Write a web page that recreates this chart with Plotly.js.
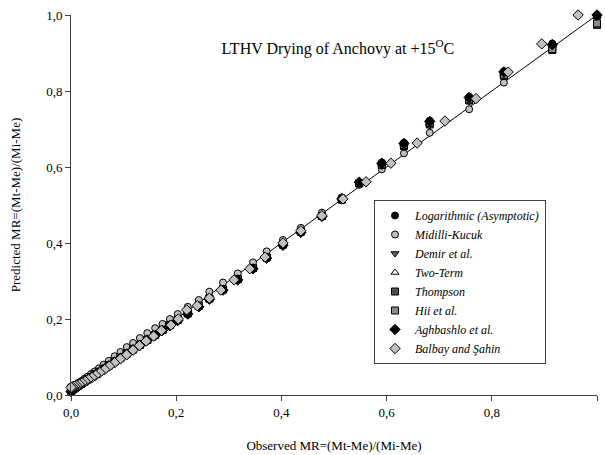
<!DOCTYPE html>
<html>
<head>
<meta charset="utf-8">
<script src="https://cdn.plot.ly/plotly-3.0.1.min.js"></script>
<style>html,body{margin:0;padding:0;background:#fff;}#chart{width:605px;height:455px;}</style>
</head>
<body>
<div id="chart"></div>
<script>
// Observed MR (common to the first seven models)
const observed = [1.000, 0.915, 0.823, 0.757, 0.682, 0.633, 0.591, 0.548, 0.515, 0.477, 0.437, 0.403, 0.372, 0.346, 0.317, 0.289, 0.263, 0.243, 0.222, 0.203, 0.188, 0.174, 0.160, 0.145, 0.131, 0.118, 0.106, 0.094, 0.083, 0.072, 0.062, 0.053, 0.045, 0.038, 0.031, 0.025, 0.019, 0.014, 0.010, 0.006, 0.003, 0.000];

const predLogarithmic = [1.000, 0.925, 0.852, 0.785, 0.722, 0.664, 0.612, 0.560, 0.515, 0.470, 0.428, 0.394, 0.360, 0.332, 0.303, 0.276, 0.252, 0.232, 0.213, 0.196, 0.182, 0.170, 0.157, 0.144, 0.131, 0.119, 0.108, 0.097, 0.087, 0.077, 0.068, 0.060, 0.053, 0.047, 0.042, 0.037, 0.033, 0.030, 0.028, 0.026, 0.024, 0.022];
const predMidilli = [0.998, 0.918, 0.822, 0.752, 0.690, 0.636, 0.594, 0.553, 0.520, 0.480, 0.440, 0.408, 0.378, 0.349, 0.320, 0.296, 0.272, 0.250, 0.232, 0.213, 0.200, 0.187, 0.176, 0.163, 0.150, 0.137, 0.126, 0.113, 0.102, 0.090, 0.080, 0.070, 0.062, 0.055, 0.048, 0.042, 0.036, 0.032, 0.028, 0.025, 0.022, 0.020];
const predDemir = [0.990, 0.915, 0.838, 0.772, 0.708, 0.652, 0.603, 0.556, 0.514, 0.470, 0.430, 0.396, 0.362, 0.334, 0.305, 0.278, 0.254, 0.235, 0.215, 0.198, 0.184, 0.171, 0.158, 0.145, 0.132, 0.120, 0.109, 0.098, 0.088, 0.078, 0.069, 0.061, 0.054, 0.048, 0.042, 0.037, 0.032, 0.028, 0.025, 0.022, 0.020, 0.018];
const predTwoTerm = [0.995, 0.920, 0.845, 0.778, 0.714, 0.657, 0.607, 0.558, 0.516, 0.472, 0.431, 0.397, 0.363, 0.335, 0.306, 0.279, 0.255, 0.236, 0.216, 0.199, 0.185, 0.172, 0.159, 0.146, 0.133, 0.121, 0.110, 0.099, 0.089, 0.079, 0.070, 0.062, 0.055, 0.049, 0.043, 0.038, 0.033, 0.029, 0.026, 0.023, 0.021, 0.019];
const predThompson = [0.974, 0.908, 0.840, 0.775, 0.712, 0.655, 0.605, 0.557, 0.514, 0.471, 0.430, 0.396, 0.362, 0.334, 0.305, 0.278, 0.254, 0.235, 0.215, 0.198, 0.184, 0.171, 0.158, 0.145, 0.132, 0.120, 0.109, 0.098, 0.088, 0.078, 0.069, 0.061, 0.054, 0.047, 0.041, 0.035, 0.030, 0.025, 0.021, 0.017, 0.014, 0.011];
const predHii = [0.978, 0.910, 0.843, 0.778, 0.716, 0.658, 0.607, 0.558, 0.515, 0.471, 0.430, 0.396, 0.362, 0.334, 0.305, 0.278, 0.254, 0.235, 0.215, 0.198, 0.184, 0.171, 0.158, 0.145, 0.132, 0.120, 0.109, 0.098, 0.088, 0.078, 0.069, 0.061, 0.054, 0.047, 0.041, 0.036, 0.031, 0.027, 0.024, 0.021, 0.019, 0.017];
const predAghbashlo = [1.000, 0.922, 0.850, 0.783, 0.720, 0.662, 0.610, 0.560, 0.516, 0.470, 0.428, 0.394, 0.360, 0.332, 0.303, 0.276, 0.252, 0.232, 0.213, 0.196, 0.182, 0.170, 0.157, 0.144, 0.131, 0.119, 0.108, 0.097, 0.087, 0.077, 0.068, 0.059, 0.052, 0.045, 0.039, 0.033, 0.028, 0.023, 0.019, 0.015, 0.012, 0.009];

// Balbay and Sahin series (plotted at its own observed positions)
const observedBalbay = [0.964, 0.895, 0.831, 0.770, 0.711, 0.658, 0.608, 0.561, 0.517, 0.477, 0.437, 0.403, 0.369, 0.340, 0.310, 0.285, 0.263, 0.240, 0.220, 0.204, 0.190, 0.172, 0.157, 0.143, 0.130, 0.118, 0.106, 0.094, 0.083, 0.073, 0.064, 0.055, 0.047, 0.040, 0.033, 0.027, 0.021, 0.016, 0.011, 0.007, 0.003, 0.000];
const predBalbay = [1.000, 0.924, 0.850, 0.780, 0.721, 0.663, 0.610, 0.561, 0.516, 0.472, 0.432, 0.400, 0.363, 0.332, 0.303, 0.276, 0.255, 0.235, 0.224, 0.200, 0.184, 0.170, 0.155, 0.142, 0.130, 0.118, 0.106, 0.095, 0.085, 0.076, 0.067, 0.059, 0.052, 0.046, 0.041, 0.036, 0.032, 0.028, 0.025, 0.023, 0.021, 0.020];

const lineX = [0, 1];
const lineY = [0, 1];

const modelNames = ["Logarithmic (Asymptotic)", "Midilli-Kucuk", "Demir et al.", "Two-Term", "Thompson", "Hii et al.", "Aghbashlo et al.", "Balbay and \u015eahin"];

const FONT = "Liberation Serif";
const outline = {color: "#000", width: 1};

function series(name, x, y, symbol, color, size) {
  return {
    type: "scatter", mode: "markers", name: name, x: x, y: y,
    cliponaxis: false,
    marker: {symbol: symbol, color: color, size: size, line: outline}
  };
}

const traces = [
  {type: "scatter", mode: "lines", x: lineX, y: lineY, showlegend: false,
   line: {color: "#000", width: 1}, hoverinfo: "skip"},
  series(modelNames[0], observed, predLogarithmic, "circle", "#000000", 7),
  series(modelNames[1], observed, predMidilli, "circle", "#c0c0c0", 7),
  series(modelNames[2], observed, predDemir, "triangle-down", "#606060", 7),
  series(modelNames[3], observed, predTwoTerm, "triangle-up", "#ffffff", 7),
  series(modelNames[4], observed, predThompson, "square", "#505050", 7),
  series(modelNames[5], observed, predHii, "square", "#8a8a8a", 7),
  series(modelNames[6], observed, predAghbashlo, "diamond", "#000000", 8),
  series(modelNames[7], observedBalbay, predBalbay, "diamond", "#c0c0c0", 8)
];

const axisCommon = {
  range: [0, 1], dtick: 0.2, tick0: 0, tickformat: ".1f",
  showgrid: false, zeroline: false, showline: true,
  linecolor: "#404040", linewidth: 1,
  ticks: "outside", ticklen: 5, tickcolor: "#404040", tickwidth: 1,
  tickfont: {family: FONT, size: 13, color: "#000"},
  fixedrange: true
};

const layout = {
  width: 605, height: 455,
  margin: {l: 71, r: 8, t: 15, b: 60},
  paper_bgcolor: "#fff", plot_bgcolor: "#fff",
  separators: ", ",
  font: {family: FONT, color: "#000"},
  title: {
    text: "LTHV Drying of Anchovy at +15<sup>O</sup>C",
    font: {family: FONT, size: 16, color: "#000"},
    x: 307 / 605, xref: "paper", xanchor: "center",
    y: 1 - 48 / 455, yref: "container", yanchor: "middle"
  },
  xaxis: Object.assign({}, axisCommon, {
    title: {text: "Observed MR=(Mt-Me)/(Mi-Me)", font: {family: FONT, size: 13, color: "#000"}, standoff: 22}
  }),
  yaxis: Object.assign({}, axisCommon, {
    title: {text: "Predicted MR=(Mt-Me)/(Mi-Me)", font: {family: FONT, size: 13, color: "#000"}, standoff: 22}
  }),
  showlegend: true,
  legend: {
    x: (374 - 71) / 526, xanchor: "left",
    y: (395 - 200) / 380, yanchor: "top",
    bgcolor: "#fff", bordercolor: "#404040", borderwidth: 1,
    font: {family: FONT, size: 12, color: "#000", style: "italic"},
    tracegroupgap: 0, itemsizing: "trace"
  }
};

Plotly.newPlot("chart", traces, layout, {displayModeBar: false, staticPlot: true});
</script>
</body>
</html>
